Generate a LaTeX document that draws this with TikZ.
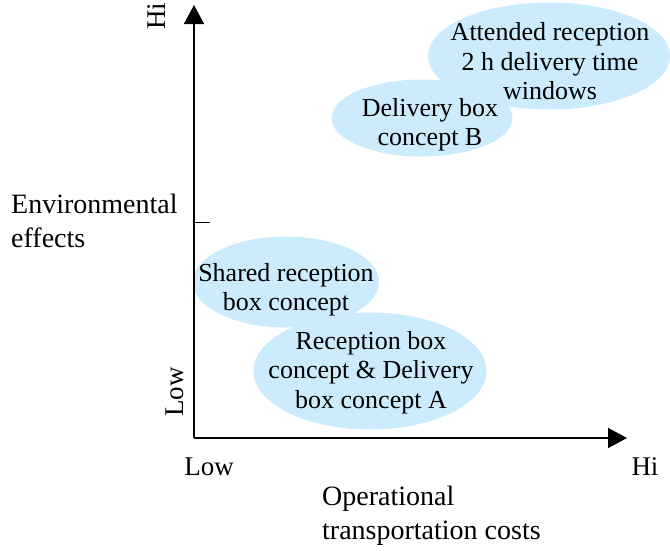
\documentclass[tikz,border=0pt]{standalone}
\usepackage{fontspec}
\setmainfont{Liberation Serif}
\usetikzlibrary{arrows.meta,shapes.geometric}
\definecolor{bubble}{RGB}{204,235,252}
\begin{document}
\begin{tikzpicture}[x=1pt,y=-1pt,
  bub/.style={ellipse, fill=bubble, draw=none, inner sep=0pt},
  lbl/.style={inner sep=0pt, align=center, font=\fontsize{26}{29.5}\selectfont},
  axlbl/.style={inner sep=0pt, align=left, font=\fontsize{28}{34}\selectfont},
  endlbl/.style={inner sep=0pt, font=\fontsize{27}{33}\selectfont},
  axisline/.style={line width=1.6pt, -{Triangle[length=19pt,width=20pt]}}]
\useasboundingbox (0,0) rectangle (670,550);

% bubbles
\node[bub, minimum width=242pt, minimum height=107pt] (attB) at (549,56) {};
\node[bub, minimum width=181pt, minimum height=77pt] (dbB) at (422,118) {};
\node[bub, minimum width=186pt, minimum height=91pt] (shB) at (286,282) {};
\node[bub, minimum width=233pt, minimum height=117pt] (rbB) at (370,371) {};

% bubble texts
\node[lbl] (attT) at (550,61.5) {Attended reception\\2 h delivery time\\windows};
\node[lbl] (dbT) at (430,124.5) {Delivery box\\concept B};
\node[lbl] (shT) at (286,289.5) {Shared reception\\box concept};
\node[lbl] (rbT) at (371,372.5) {Reception box\\concept \& Delivery\\box concept A};

% axes
\coordinate (O) at (194,438);
\coordinate (ytip) at (194,5);
\coordinate (xtip) at (627,438);
\coordinate (tickA) at (194,222);
\coordinate (tickB) at (210,222);
\draw[axisline] (O) -- (ytip);
\draw[axisline] (O) -- (xtip);
\draw[line width=1pt] (tickA) -- (tickB);

% axis labels
\node[endlbl, rotate=90] (yhi) at (157,16) {Hi};
\node[endlbl, rotate=90] (ylow) at (175,392) {Low};
\node[endlbl] (xlow) at (209,467) {Low};
\node[endlbl] (xhi) at (645,467) {Hi};
\node[axlbl, anchor=west] (ytitle) at (11,221) {Environmental\\effects};
\node[axlbl, anchor=west] (xtitle) at (322,515.5) {Operational\\transportation costs};
\end{tikzpicture}
\end{document}
